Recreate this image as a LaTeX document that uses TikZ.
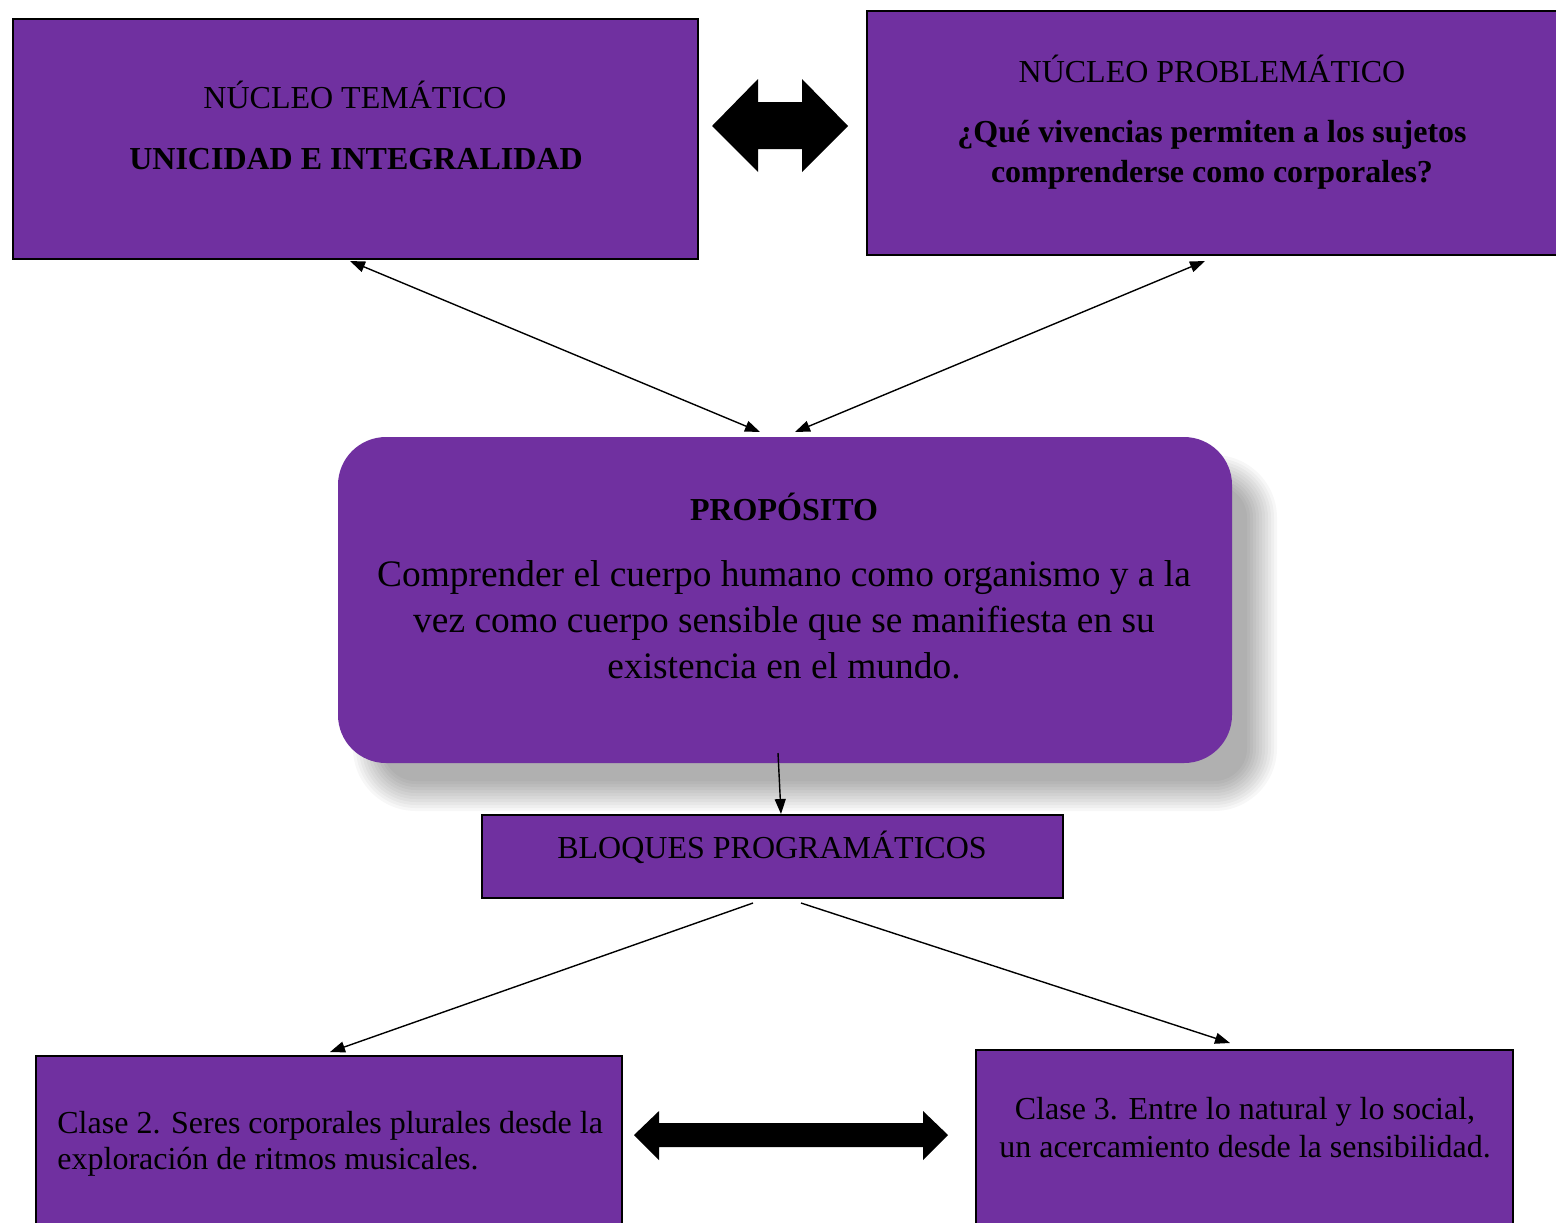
\documentclass[tikz,border=0pt]{standalone}
\usepackage{fontspec}
\setmainfont{Liberation Serif}
\usetikzlibrary{fit,arrows.meta}
\definecolor{purp}{RGB}{112,48,160}
\begin{document}
\begin{tikzpicture}[x=0.5pt,y=-0.5pt,
  box/.style={draw=black, line width=1pt, fill=purp, inner sep=0pt},
  txt/.style={anchor=base, inner sep=0pt, font=\fontsize{16}{19}\selectfont},
  btxt/.style={anchor=base, inner sep=0pt, font=\fontsize{16}{19}\selectfont\bfseries},
  ltxt/.style={anchor=base, inner sep=0pt, font=\fontsize{18.7}{22}\selectfont},
  conn/.style={line width=0.7pt, -{Triangle[length=7.5pt,width=5.5pt]}},
  dconn/.style={line width=0.7pt, {Triangle[length=7.5pt,width=5.5pt]}-{Triangle[length=7.5pt,width=5.5pt]}},
  bigarrow/.style={fill=black}]
\useasboundingbox (0,0) rectangle (1556,1222);
\fill[white] (0,0) rectangle (1556,1222);

% boxes
\node[box, fit={(13,19) (698,259)}] (tl) {};
\node[box, fit={(867,11) (1562,255)}] (tr) {};

% shadow of central box
\foreach \e in {-15,-12,...,15} {
  \pgfmathsetmacro\rr{(48+\e)*0.5}
  \fill[black, opacity=0.031, rounded corners=\rr pt] (368-\e,470-\e) rectangle (1262+\e,796+\e);
}
\node[fill=purp, rounded corners=24pt, inner sep=0pt, fit={(338,437) (1232,763)}] (prop) {};

\node[box, fit={(482,815) (1063,898)}] (bloq) {};
\node[box, fit={(36,1056) (622,1240)}] (c2) {};
\node[box, fit={(976,1050) (1513,1240)}] (c3) {};

% texts
\node[txt] (t1) at (355,108) {NÚCLEO TEMÁTICO};
\node[btxt] (t2) at (356,169) {UNICIDAD E INTEGRALIDAD};
\node[txt] (t3) at (1212,82) {NÚCLEO PROBLEMÁTICO};
\node[btxt] (t4) at (1212,142) {¿Qué vivencias permiten a los sujetos};
\node[btxt] (t5) at (1212,182) {comprenderse como corporales?};
\node[btxt] (t6) at (784,520) {PROPÓSITO};
\node[ltxt] (t7) at (784,586) {Comprender el cuerpo humano como organismo y a la};
\node[ltxt] (t8) at (784,632) {vez como cuerpo sensible que se manifiesta en su};
\node[ltxt] (t9) at (784,678) {existencia en el mundo.};
\node[txt] (t10) at (772,858) {BLOQUES PROGRAMÁTICOS};
\node[txt, anchor=base west] (t11) at (57,1133) {Clase 2. Seres corporales plurales desde la};
\node[txt, anchor=base west] (t12) at (57,1169) {exploración de ritmos musicales.};
\node[txt] (t13) at (1245,1119) {Clase 3. Entre lo natural y lo social,};
\node[txt] (t14) at (1245,1157) {un acercamiento desde la sensibilidad.};

% big double arrows
\fill[bigarrow] (712,126) -- (758,79) -- (758,102) -- (802,102) -- (802,79) -- (848,126)
  -- (802,172) -- (802,149) -- (758,149) -- (758,172) -- cycle;
\fill[bigarrow] (634,1135) -- (659,1111) -- (659,1123) -- (923,1123) -- (923,1111) -- (948,1135)
  -- (923,1160) -- (923,1147) -- (659,1147) -- (659,1160) -- cycle;

% connector end points
\coordinate (tlA) at (350,261);
\coordinate (pA) at (760,432);
\coordinate (trA) at (1205,261);
\coordinate (pB) at (795,432);
\coordinate (pC) at (778,753);
\coordinate (bA) at (781,814);
\coordinate (bB) at (753,903);
\coordinate (c2A) at (330,1052);
\coordinate (bC) at (801,903);
\coordinate (c3A) at (1230,1043);

\draw[dconn] (tlA) -- (pA);
\draw[dconn] (trA) -- (pB);
\draw[conn] (pC) -- (bA);
\draw[conn] (bB) -- (c2A);
\draw[conn] (bC) -- (c3A);
\end{tikzpicture}
\end{document}
